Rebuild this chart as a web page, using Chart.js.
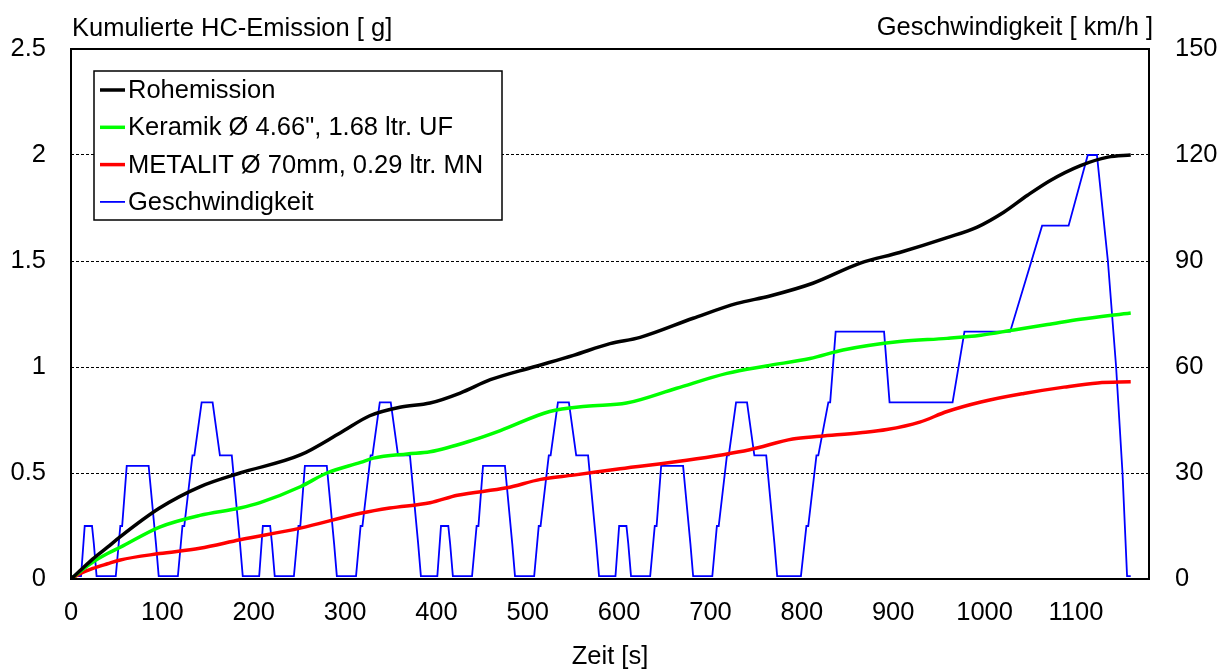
<!DOCTYPE html>
<html>
<head>
<meta charset="utf-8">
<script src="https://cdn.jsdelivr.net/npm/chart.js@4"></script>
<style>
    body { margin: 0; background: #fff; }
    #wrap { width: 1230px; height: 669px; }
</style>
</head>
<body>
<div id="wrap"><canvas id="hcChart"></canvas></div>
<script>
const FONT = "'Liberation Sans', Arial, sans-serif";
const FONT_SIZE = 25.5;

// Rohemission, kumuliert [g]
const rawTime = [0, 10, 24, 40, 54, 97, 141, 185, 251, 295, 327, 360, 393, 426, 459, 506, 550, 590, 623, 681, 729, 765, 812, 864, 907, 959, 992, 1021, 1047, 1072, 1105, 1135, 1160];
const rawHc = [0, 0.04, 0.095, 0.15, 0.2, 0.335, 0.435, 0.50, 0.585, 0.69, 0.77, 0.81, 0.83, 0.877, 0.94, 1.0, 1.055, 1.11, 1.14, 1.23, 1.30, 1.335, 1.395, 1.49, 1.54, 1.61, 1.66, 1.73, 1.81, 1.88, 1.95, 1.99, 2.0];

// Keramik-Katalysator
const ceramicTime = [0, 10, 24, 40, 54, 97, 141, 185, 207, 251, 280, 317, 331, 368, 393, 440, 470, 524, 564, 608, 663, 718, 761, 809, 845, 907, 959, 996, 1032, 1069, 1105, 1160];
const ceramicHc = [0, 0.035, 0.08, 0.12, 0.15, 0.245, 0.30, 0.335, 0.36, 0.435, 0.50, 0.55, 0.57, 0.59, 0.60, 0.655, 0.70, 0.79, 0.815, 0.83, 0.90, 0.97, 1.005, 1.04, 1.08, 1.12, 1.135, 1.15, 1.175, 1.20, 1.225, 1.255];

// METALIT-Katalysator
const metalTime = [0, 10, 24, 40, 54, 97, 141, 185, 251, 317, 349, 393, 423, 477, 514, 550, 601, 674, 743, 790, 820, 864, 893, 929, 959, 996, 1043, 1087, 1124, 1160];
const metalHc = [0, 0.025, 0.05, 0.072, 0.09, 0.12, 0.145, 0.185, 0.24, 0.31, 0.335, 0.36, 0.395, 0.43, 0.47, 0.49, 0.52, 0.56, 0.61, 0.66, 0.673, 0.69, 0.705, 0.74, 0.79, 0.835, 0.875, 0.905, 0.925, 0.93];

// Fahrzyklus: 4x Stadtteil + Überlandteil
const speedTime = [
    0, 11, 15, 23, 25, 28, 49, 54, 56, 61, 85, 93, 96, 117, 122, 124, 133, 135, 143, 155, 163, 176, 185, 188,
    206, 210, 218, 220, 223, 244, 249, 251, 256, 280, 288, 291, 312, 317, 319, 328, 330, 338, 350, 358, 371, 380, 383,
    401, 405, 413, 415, 418, 439, 444, 446, 451, 475, 483, 486, 507, 512, 514, 523, 525, 533, 545, 553, 566, 575, 578,
    596, 600, 608, 610, 613, 634, 639, 641, 646, 670, 678, 681, 702, 707, 709, 718, 720, 728, 740, 748, 761, 770, 773,
    799, 805, 807, 816, 818, 829, 831, 837, 890, 896, 965, 978, 1028, 1063, 1092, 1113, 1123, 1135, 1144, 1151, 1156, 1160
];
const speedKmh = [
    0.8, 0.8, 15, 15, 10, 0.8, 0.8, 15, 15, 32, 32, 10, 0.8, 0.8, 15, 15, 35, 35, 50, 50, 35, 35, 10, 0.8,
    0.8, 15, 15, 10, 0.8, 0.8, 15, 15, 32, 32, 10, 0.8, 0.8, 15, 15, 35, 35, 50, 50, 35, 35, 10, 0.8,
    0.8, 15, 15, 10, 0.8, 0.8, 15, 15, 32, 32, 10, 0.8, 0.8, 15, 15, 35, 35, 50, 50, 35, 35, 10, 0.8,
    0.8, 15, 15, 10, 0.8, 0.8, 15, 15, 32, 32, 10, 0.8, 0.8, 15, 15, 35, 35, 50, 50, 35, 35, 10, 0.8,
    0.8, 15, 15, 35, 35, 50, 50, 70, 70, 50, 50, 70, 70, 100, 100, 120, 120, 90, 60, 30, 0.8, 0.8
];

const toPoints = function (xs, ys) {
    return xs.map(function (x, i) {
        return { x: x, y: ys[i] };
    });
}

const plainNumber = function (value) {
    return String(value);
}

// legend box inside the plot, top left
const legendBox = {
    id: 'legendBox',
    afterDraw: function (chart) {
        const ctx = chart.ctx;
        const left = 94, top = 71, rowH = 37.3, width = 408, height = 149;
        ctx.save();
        ctx.fillStyle = '#fff';
        ctx.fillRect(left, top, width, height);
        ctx.strokeStyle = '#000';
        ctx.lineWidth = 1.5;
        ctx.strokeRect(left, top, width, height);
        ctx.font = FONT_SIZE + 'px ' + FONT;
        ctx.textBaseline = 'middle';
        ctx.fillStyle = '#000';
        chart.data.datasets.forEach(function (ds, i) {
            const y = top + 19 + i * rowH;
            ctx.beginPath();
            ctx.strokeStyle = ds.borderColor;
            ctx.lineWidth = ds.borderWidth;
            ctx.moveTo(left + 6, y);
            ctx.lineTo(left + 31, y);
            ctx.stroke();
            ctx.fillText(ds.label, left + 34, y + 1);
        });
        ctx.restore();
    }
};

// frame and axis titles
const frameAndTitles = {
    id: 'frameAndTitles',
    afterDraw: function (chart) {
        const ctx = chart.ctx;
        const a = chart.chartArea;
        ctx.save();
        ctx.strokeStyle = '#000';
        ctx.lineWidth = 2;
        ctx.strokeRect(a.left, a.top, a.right - a.left, a.bottom - a.top);
        ctx.fillStyle = '#000';
        ctx.font = FONT_SIZE + 'px ' + FONT;
        ctx.textBaseline = 'middle';
        ctx.textAlign = 'left';
        ctx.fillText('Kumulierte HC-Emission [ g]', 72, 29);
        ctx.textAlign = 'right';
        ctx.fillText('Geschwindigkeit [ km/h ]', 1153, 28);
        ctx.textAlign = 'center';
        ctx.fillText('Zeit [s]', (a.left + a.right) / 2, 657);
        ctx.restore();
    }
};

const tickFont = { family: FONT, size: FONT_SIZE };

new Chart(document.getElementById('hcChart'), {
    type: 'line',
    data: {
        datasets: [{
            label: 'Rohemission',
            data: toPoints(rawTime, rawHc),
            borderColor: '#000000',
            borderWidth: 3.5,
            cubicInterpolationMode: 'monotone',
            yAxisID: 'y',
            order: 1
        }, {
            label: 'Keramik Ø 4.66", 1.68 ltr. UF',
            data: toPoints(ceramicTime, ceramicHc),
            borderColor: '#00FF00',
            borderWidth: 3.5,
            cubicInterpolationMode: 'monotone',
            yAxisID: 'y',
            order: 2
        }, {
            label: 'METALIT Ø 70mm, 0.29 ltr. MN',
            data: toPoints(metalTime, metalHc),
            borderColor: '#FF0000',
            borderWidth: 3.5,
            cubicInterpolationMode: 'monotone',
            yAxisID: 'y',
            order: 3
        }, {
            label: 'Geschwindigkeit',
            data: toPoints(speedTime, speedKmh),
            borderColor: '#0000FF',
            borderWidth: 1.8,
            tension: 0,
            yAxisID: 'y2',
            order: 4
        }]
    },
    options: {
        responsive: true,
        maintainAspectRatio: false,
        animation: false,
        devicePixelRatio: 1,
        layout: { padding: { top: 49 } },
        elements: { point: { radius: 0 } },
        plugins: {
            legend: { display: false },
            tooltip: { enabled: false }
        },
        scales: {
            x: {
                type: 'linear',
                min: 0,
                max: 1180,
                grid: { display: false, drawTicks: false },
                border: { display: false },
                ticks: { stepSize: 100, includeBounds: false, padding: 19, color: '#000', font: tickFont, maxRotation: 0, callback: plainNumber },
                afterFit: function (scale) { scale.height = 90; }
            },
            y: {
                position: 'left',
                min: 0,
                max: 2.5,
                grid: {
                    drawTicks: false,
                    lineWidth: 1,
                    color: function (c) {
                        const v = c.tick.value;
                        return (v > 0 && v < 2.5) ? '#000' : 'rgba(0,0,0,0)';
                    }
                },
                border: { display: false, dash: [3, 2] },
                ticks: { stepSize: 0.5, padding: 25, color: '#000', font: tickFont, callback: plainNumber },
                afterFit: function (scale) { scale.width = 71; }
            },
            y2: {
                position: 'right',
                min: 0,
                max: 150,
                grid: { display: false, drawTicks: false },
                border: { display: false },
                ticks: { stepSize: 30, padding: 26, color: '#000', font: tickFont, callback: plainNumber },
                afterFit: function (scale) { scale.width = 81; }
            }
        }
    },
    plugins: [legendBox, frameAndTitles]
});
</script>
</body>
</html>
